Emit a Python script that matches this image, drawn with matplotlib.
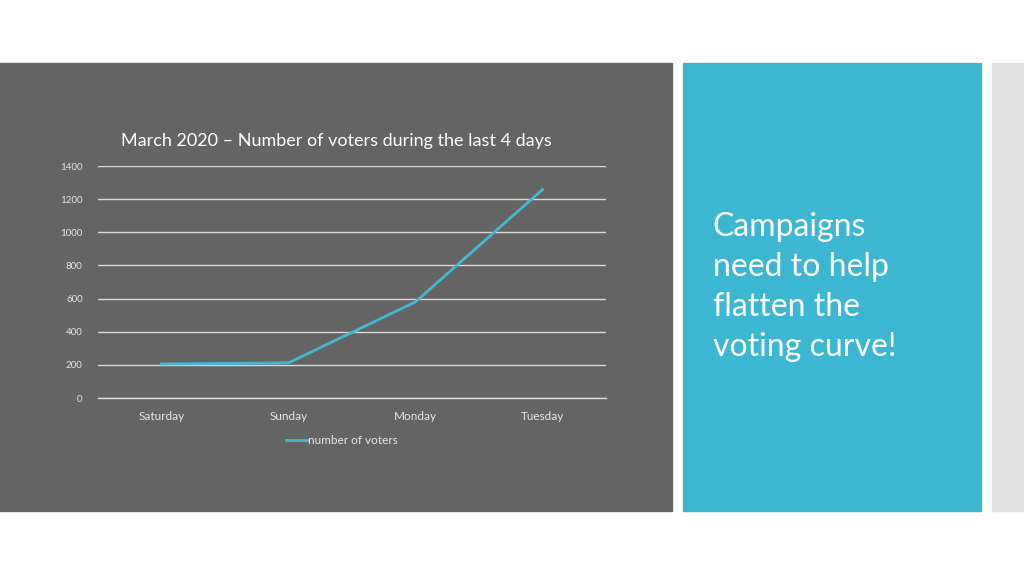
import matplotlib.pyplot as plt
from matplotlib.patches import Rectangle

days = ['Saturday', 'Sunday', 'Monday', 'Tuesday']
voters = [205, 212, 580, 1258]
yticks = [0, 200, 400, 600, 800, 1000, 1200, 1400]

plt.rcParams['font.family'] = ['Lato', 'DejaVu Sans']

W, H = 1024, 576
fig = plt.figure(figsize=(W / 100, H / 100), dpi=100)
fig.patch.set_facecolor('white')


def box(x0, y0, x1, y1, color):
    # pixel coords from the top-left corner
    fig.patches.append(Rectangle((x0 / W, 1 - y1 / H), (x1 - x0) / W, (y1 - y0) / H,
                                 transform=fig.transFigure, color=color, zorder=-5))


box(0, 63, 672, 511, '#646464')
box(683, 63, 981, 511, '#3db7d1')
box(992, 63, 1024, 511, '#e2e2e2')

ax = fig.add_axes([98 / W, 1 - 398 / H, (606 - 98) / W, (398 - 166) / H])
ax.set_zorder(2)
ax.set_facecolor('none')
x = range(len(days))
ax.plot(x, voters, color='#43b8d3', lw=2, label='number of voters')
ax.set_xlim(-0.5, 3.5)
ax.set_ylim(0, 1400)
ax.set_yticks(yticks)
ax.set_xticks(list(x))
ax.set_xticklabels(days)
ax.grid(axis='y', color='#d9d9d9', lw=1)
ax.axhline(0, color='#d9d9d9', lw=1, clip_on=False, zorder=0)
ax.set_axisbelow(True)
for s in ax.spines.values():
    s.set_visible(False)
ax.tick_params(length=0, colors='#e6e6e6')
ax.tick_params(axis='y', labelsize=7, pad=11)
ax.tick_params(axis='x', labelsize=8.5, pad=9)

fig.text(336 / W, 1 - 141 / H, 'March 2020 \u2013 Number of voters during the last 4 days',
         ha='center', va='center', color='white', fontsize=13)

leg = ax.legend(loc='upper center', bbox_to_anchor=(0.48, -0.115), frameon=False,
                fontsize=8.5, handlelength=1.8, handletextpad=0.1)
for t in leg.get_texts():
    t.set_color('#e6e6e6')

fig.text(713 / W, 1 - 287 / H, 'Campaigns\nneed to help\nflatten the\nvoting curve!',
         ha='left', va='center', color='white', fontsize=23, linespacing=1.42)

fig.savefig('out.png', dpi=100)
